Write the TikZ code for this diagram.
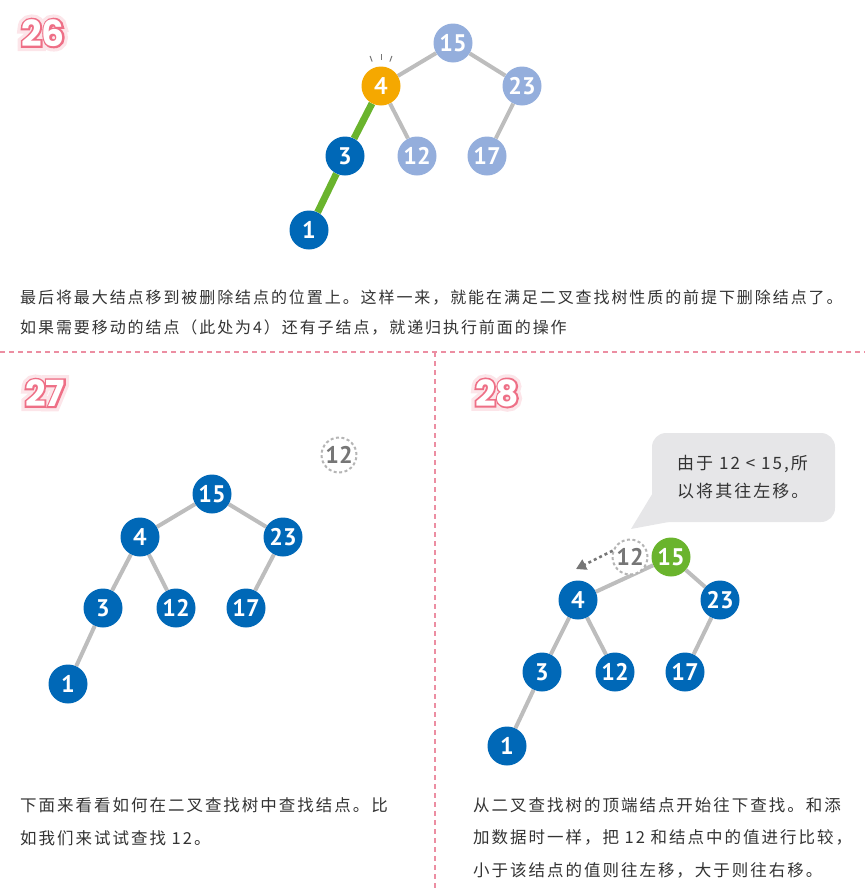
\documentclass[tikz,border=0pt]{standalone}
\usepackage{fontspec}
\newfontfamily\cjk{Noto Sans CJK SC}[LetterSpace=12]
\newfontfamily\numfont{PT Sans}
\newfontfamily\stepfont{Poppins}
\newfontfamily\stepedge{Poppins}[FakeBold=10]
\newfontfamily\stepglow{Poppins}[FakeBold=28]
\usetikzlibrary{arrows.meta,calc,backgrounds}
\definecolor{nodeblue}{HTML}{0068B7}
\definecolor{paleblue}{HTML}{94AEDC}
\definecolor{pickorange}{HTML}{F5A800}
\definecolor{leafgreen}{HTML}{6AB42D}
\definecolor{edgegray}{HTML}{BDBDBD}
\definecolor{probegray}{HTML}{B5B5B5}
\definecolor{probetext}{HTML}{767676}
\definecolor{bubblegray}{HTML}{E6E6E8}
\definecolor{bodyink}{HTML}{333333}
\definecolor{steppink}{HTML}{EE6F86}
\definecolor{seppink}{HTML}{EC8EA2}
\tikzset{
  bst/.style={circle,minimum size=39pt,inner sep=0pt,text=white,
    font=\numfont\bfseries\fontsize{24}{24}\selectfont},
  darknode/.style={bst,fill=nodeblue},
  palenode/.style={bst,fill=paleblue},
  picknode/.style={bst,fill=pickorange},
  rootnode/.style={bst,fill=leafgreen},
  probe/.style={bst,minimum size=35pt,fill=white,draw=probegray,line width=2pt,
    dash pattern=on 3pt off 2.5pt,text=probetext},
  branch/.style={draw=edgegray,line width=4pt},
  moved/.style={draw=leafgreen,line width=7pt},
  spark/.style={draw=probetext,line width=1pt},
  steptxt/.style={font=\stepfont\bfseries\fontsize{36}{36}\selectfont,inner sep=0pt},
  bodytext/.style={anchor=base west,align=left,text=bodyink,inner sep=0pt,
    font=\cjk\fontsize{16.5}{32.5}\selectfont},
  separator/.style={draw=seppink,line width=1.3pt,dash pattern=on 5pt off 4pt}}
\newcommand\stepmark[2]{%
  \node[steptxt,font=\stepglow\bfseries\fontsize{36}{36}\selectfont,
    text=steppink!18] at (#2) {#1};
  \node[steptxt,font=\stepedge\bfseries\fontsize{36}{36}\selectfont,
    text=steppink] at (#2) {#1};
  \node[steptxt,text=white] (step#1) at (#2) {#1};}
\begin{document}
\begin{tikzpicture}[x=1pt,y=1pt]
\useasboundingbox (0,0) rectangle (865,-889);
% step numbers
\stepmark{26}{43,-33}
\stepmark{27}{45,-393}
\stepmark{28}{497,-393}
\draw[separator] (0,-352) -- (865,-352);
\draw[separator] (435,-352) -- (435,-889);

% 26: move the largest node up
\node[palenode] (a15) at (453,-43) {15};
\node[picknode] (a4) at (381,-86) {4};
\node[palenode] (a23) at (522,-86) {23};
\node[darknode] (a3) at (345,-156) {3};
\node[palenode] (a12) at (417,-156) {12};
\node[palenode] (a17) at (487,-156) {17};
\node[darknode] (a1) at (309,-230) {1};
\begin{scope}[on background layer]
\draw[branch] (a15)--(a4) (a15)--(a23) (a4)--(a12) (a23)--(a17);
\draw[moved] (a4)--(a3) (a3)--(a1);
\end{scope}
\foreach \a in {70,90,110}\draw[spark] ($(a4)+(\a:26)$)--($(a4)+(\a:32)$);
\node[bodytext,font=\cjk\fontsize{16}{30}\selectfont] (text26) at (20,-333) {最后将最大结点移到被删除结点的位置上。这样一来，就能在满足二叉查找树性质的前提下删除结点了。\\如果需要移动的结点（此处为4）还有子结点，就递归执行前面的操作};

% 27: look for 12
\node[probe] (b12p) at (339,-455) {12};
\node[darknode] (b15) at (212,-494) {15};
\node[darknode] (b4) at (140,-537) {4};
\node[darknode] (b23) at (283,-537) {23};
\node[darknode] (b3) at (103,-608) {3};
\node[darknode] (b12) at (176,-608) {12};
\node[darknode] (b17) at (246,-608) {17};
\node[darknode] (b1) at (68,-684) {1};
\begin{scope}[on background layer]
\draw[branch] (b15)--(b4) (b15)--(b23) (b4)--(b3) (b4)--(b12) (b23)--(b17) (b3)--(b1);
\end{scope}
\node[bodytext] (text27) at (20,-844) {下面来看看如何在二叉查找树中查找结点。比\\如我们来试试查找 12。};

% 28: compare with the root
\fill[bubblegray,rounded corners=14pt] (652,-433) rectangle (835,-522);
\fill[bubblegray] (657,-486) -- (631,-529) -- (674,-521) -- cycle;
\node[bodytext,font=\cjk\fontsize{17}{28}\selectfont] (tip28) at (677,-497) {由于 12 < 15,所\\以将其往左移。};
\node[rootnode] (c15) at (671,-557) {15};
\node[darknode] (c4) at (578,-600) {4};
\node[darknode] (c23) at (720,-600) {23};
\node[darknode] (c3) at (542,-672) {3};
\node[darknode] (c12) at (615,-672) {12};
\node[darknode] (c17) at (685,-672) {17};
\node[darknode] (c1) at (507,-746) {1};
\node[probe] (c12p) at (630,-557) {12};
\coordinate (goleft) at (576,-569);
\begin{scope}[on background layer]
\draw[branch] (c15)--(c4) (c15)--(c23) (c4)--(c3) (c4)--(c12) (c23)--(c17) (c3)--(c1);
\end{scope}
\draw[draw=probetext,line width=2.5pt,dash pattern=on 3pt off 3pt,
  -{Triangle[length=10pt,width=11pt]}] (c12p.160) -- (goleft);
\node[bodytext] (text28) at (473,-876) {从二叉查找树的顶端结点开始往下查找。和添\\加数据时一样，把 12 和结点中的值进行比较，\\小于该结点的值则往左移，大于则往右移。};
\end{tikzpicture}
\end{document}
